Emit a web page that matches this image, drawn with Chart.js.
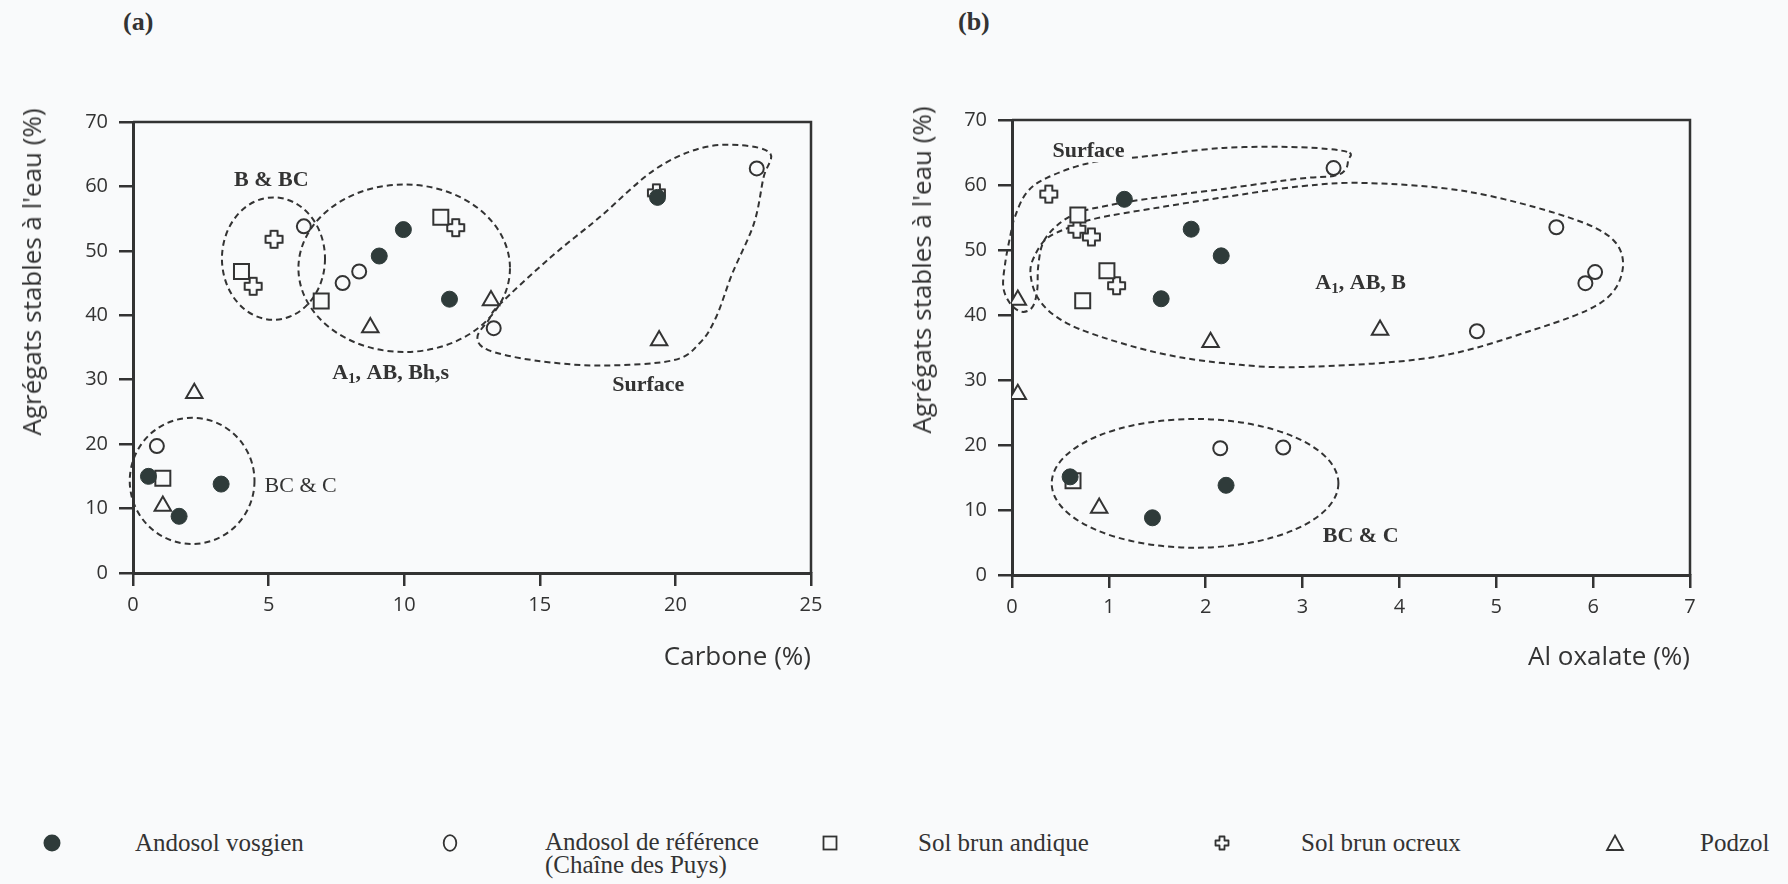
<!DOCTYPE html>
<html>
<head>
<meta charset="utf-8">
<script src="https://cdn.jsdelivr.net/npm/chart.js@4.4.1/dist/chart.umd.min.js"></script>
<style>
  html, body { margin: 0; padding: 0; }
  body { width: 1788px; height: 884px; background: #f9fafb; position: relative; overflow: hidden; }
  .wrap { position: absolute; top: 0; }
  .ytitle { position: absolute; transform: translate(-50%, -50%) rotate(-90deg); white-space: nowrap;
            font-family: 'Open Sans', sans-serif; font-size: 26px; line-height: 30px; color: #333; }
  .panel { position: absolute; font-family: 'Liberation Serif', serif; font-weight: bold; font-size: 26px; color: #333; line-height: 30px; }
  .lg { position: absolute; font-family: 'Liberation Serif', serif; font-size: 25px; color: #333; line-height: 23px; white-space: nowrap; }
  .sym { position: absolute; }
</style>
</head>
<body>
<div class="panel" style="left:123px; top:7px;">(a)</div>
<div class="panel" style="left:958px; top:7px;">(b)</div>

<div class="wrap" style="left:0px; width:880px; height:700px;"><canvas id="ca" width="880" height="700"></canvas></div>
<div class="wrap" style="left:890px; width:898px; height:700px;"><canvas id="cb" width="898" height="700"></canvas></div>

<div class="ytitle" style="left:31px; top:272px;">Agrégats stables à l'eau (%)</div>
<div class="ytitle" style="left:921px; top:270px;">Agrégats stables à l'eau (%)</div>

<!-- legend -->
<svg class="sym" style="left:42px; top:833px;" width="20" height="20"><circle cx="10" cy="10" r="8.5" fill="#2f3b3a"/></svg>
<div class="lg" style="left:135px; top:831px;">Andosol vosgien</div>
<svg class="sym" style="left:440px; top:833px;" width="20" height="20"><ellipse cx="10" cy="10" rx="6.3" ry="7.8" fill="none" stroke="#333" stroke-width="1.8"/></svg>
<div class="lg" style="left:545px; top:830px;">Andosol de référence<br>(Chaîne des Puys)</div>
<svg class="sym" style="left:820px; top:833px;" width="20" height="20"><rect x="3.5" y="3.5" width="13" height="13" fill="none" stroke="#333" stroke-width="1.8"/></svg>
<div class="lg" style="left:918px; top:831px;">Sol brun andique</div>
<svg class="sym" style="left:1212px; top:833px;" width="20" height="20"><path d="M7.5 3.5 H12.5 V7.5 H16.5 V12.5 H12.5 V16.5 H7.5 V12.5 H3.5 V7.5 H7.5 Z" fill="none" stroke="#333" stroke-width="1.8" stroke-linejoin="round"/></svg>
<div class="lg" style="left:1301px; top:831px;">Sol brun ocreux</div>
<svg class="sym" style="left:1605px; top:833px;" width="20" height="20"><polygon points="10,2.5 18,17 2,17" fill="none" stroke="#333" stroke-width="1.8"/></svg>
<div class="lg" style="left:1700px; top:831px;">Podzol</div>

<script>
// ---------------- DATA ----------------
const seriesNames = ['Andosol vosgien', 'Andosol de référence (Chaîne des Puys)', 'Sol brun andique', 'Sol brun ocreux', 'Podzol'];

// Panel (a): [Carbone %, Agrégats stables %]
const aAndosolVosgien = [[0.57,15.0],[1.7,8.8],[3.25,13.8],[9.08,49.2],[9.97,53.3],[11.67,42.5],[19.34,58.3]];
const aAndosolReference = [[0.88,19.7],[6.3,53.8],[7.73,45.0],[8.34,46.8],[13.3,38.0],[23.0,62.8]];
const aSolBrunAndique = [[1.1,14.7],[4.0,46.8],[6.94,42.2],[11.35,55.2]];
const aSolBrunOcreux = [[4.43,44.5],[5.2,51.8],[11.9,53.6],[19.3,59.0]];
const aPodzol = [[1.1,10.4],[2.26,27.9],[8.75,38.1],[13.2,42.3],[19.4,36.1]];

// Panel (b): [Al oxalate %, Agrégats stables %]
const bAndosolVosgien = [[0.6,15.1],[1.45,8.8],[2.21,13.8],[1.16,57.8],[1.85,53.2],[2.16,49.1],[1.54,42.5]];
const bAndosolReference = [[2.15,19.5],[2.8,19.6],[3.32,62.6],[5.62,53.5],[6.02,46.6],[5.92,44.9],[4.8,37.5]];
const bSolBrunAndique = [[0.63,14.5],[0.68,55.4],[0.98,46.8],[0.73,42.2]];
const bSolBrunOcreux = [[0.38,58.6],[0.67,53.2],[0.82,52.0],[1.08,44.5]];
const bPodzol = [[0.06,42.3],[0.06,27.8],[0.9,10.3],[2.05,35.8],[3.8,37.7]];

// axis ranges / tick labels
const yTicks = [0,10,20,30,40,50,60,70];
const aXTicks = [0,5,10,15,20,25];
const bXTicks = [0,1,2,3,4,5,6,7];
const aXTitle = 'Carbone (%)';
const bXTitle = 'Al oxalate (%)';

// Grouping outlines (data units)
const aEllipses = [
  {cx:5.18, cy:48.8, rx:1.9, ry:9.5},   // B & BC
  {cx:10.0, cy:47.3, rx:3.9, ry:13.0},  // A1, AB, Bh,s
  {cx:2.18, cy:14.3, rx:2.3, ry:9.8}    // BC & C
];
const aSurfaceOutline = [[23.5,65.1],[23.25,61.4],[22.9,54.3],[22.1,46.5],[21.5,39.7],[20.9,35.7],[19.9,33.0],[17.2,32.2],[14.8,33.0],[13.1,34.6],[12.7,36.6],[13.1,39.2],[13.5,41.6],[15.4,49.0],[17.2,55.2],[19.2,62.5],[20.9,65.9],[22.4,66.4]];
const bEllipses = [
  {cx:1.89, cy:14.1, rx:1.48, ry:9.9}   // BC & C
];
const bSurfaceOutline = [[3.46,65.1],[2.98,65.8],[2.18,65.7],[1.32,64.3],[0.8,63.4],[0.36,61.1],[0.15,58.8],[0.03,55.1],[-0.02,52.0],[-0.07,48.0],[-0.09,44.3],[-0.02,41.8],[0.10,40.5],[0.21,41.2],[0.26,43.8],[0.27,47.4],[0.32,51.1],[0.46,53.7],[0.67,55.7],[0.94,56.7],[1.32,57.7],[2.18,59.4],[2.98,61.0],[3.32,61.4],[3.44,62.3],[3.47,63.8]];
const bA1Outline = [[0.19,46.6],[0.24,49.3],[0.36,51.8],[0.58,53.4],[0.88,54.9],[1.50,56.5],[2.18,58.1],[2.98,59.8],[3.67,60.3],[4.70,59.0],[5.73,55.1],[6.21,51.5],[6.30,46.6],[6.07,41.8],[5.38,37.7],[4.35,33.5],[2.98,32.0],[2.18,32.6],[1.50,34.2],[0.81,37.2],[0.46,39.7],[0.26,42.8]];

// Group labels (anchor in data units)
const aGroupLabels = [
  {x:5.1, y:61.0, parts:[['B & BC']], bold:true},
  {x:9.5, y:31.0, parts:[['A'],['1',true],[', AB, Bh,s']], bold:true},
  {x:19.0, y:29.1, parts:[['Surface']], bold:true},
  {x:6.18, y:13.5, parts:[['BC & C']], bold:false}
];
const bGroupLabels = [
  {x:0.79, y:65.2, parts:[['Surface']], bold:true, bg:true},
  {x:3.6, y:44.9, parts:[['A'],['1',true],[', AB, B']], bold:true},
  {x:3.6, y:6.0, parts:[['BC & C']], bold:true}
];

// ---------------- STYLE ----------------
const INK = '#333333';
const FILL_DARK = '#2f3b3a';
const PAPER = '#f9fafb';

function makeCross(size, arm, lw) {
  const s = Math.ceil(size + lw * 2);
  const c = document.createElement('canvas');
  c.width = s; c.height = s;
  const g = c.getContext('2d');
  const m = s / 2, L = size / 2, a = arm / 2;
  const pts = [[-a,-L],[a,-L],[a,-a],[L,-a],[L,a],[a,a],[a,L],[-a,L],[-a,a],[-L,a],[-L,-a],[-a,-a]];
  g.beginPath();
  pts.forEach((p, i) => i ? g.lineTo(m + p[0], m + p[1]) : g.moveTo(m + p[0], m + p[1]));
  g.closePath();
  g.fillStyle = PAPER; g.fill();
  g.lineWidth = lw; g.strokeStyle = INK; g.lineJoin = 'round'; g.stroke();
  return c;
}
const crossImg = makeCross(17, 7, 2);

function toXY(arr) { return arr.map(p => ({x: p[0], y: p[1]})); }

function datasets(f, o, s, c, t) {
  return [
    {label: seriesNames[0], data: toXY(f), pointStyle: 'circle', pointRadius: 8, backgroundColor: FILL_DARK, borderColor: FILL_DARK, borderWidth: 1},
    {label: seriesNames[1], data: toXY(o), pointStyle: 'circle', pointRadius: 7, backgroundColor: PAPER, borderColor: INK, borderWidth: 2},
    {label: seriesNames[2], data: toXY(s), pointStyle: 'rect', pointRadius: 10.6, backgroundColor: PAPER, borderColor: INK, borderWidth: 2},
    {label: seriesNames[3], data: toXY(c), pointStyle: crossImg, pointRadius: 9, backgroundColor: PAPER, borderColor: INK},
    {label: seriesNames[4], data: toXY(t), pointStyle: 'triangle', pointRadius: 9.5, backgroundColor: PAPER, borderColor: INK, borderWidth: 2}
  ];
}

function closedSpline(ctx, pts) {
  const n = pts.length;
  ctx.beginPath();
  ctx.moveTo(pts[0][0], pts[0][1]);
  for (let i = 0; i < n; i++) {
    const p0 = pts[(i - 1 + n) % n], p1 = pts[i], p2 = pts[(i + 1) % n], p3 = pts[(i + 2) % n];
    const c1x = p1[0] + (p2[0] - p0[0]) / 6, c1y = p1[1] + (p2[1] - p0[1]) / 6;
    const c2x = p2[0] - (p3[0] - p1[0]) / 6, c2y = p2[1] - (p3[1] - p1[1]) / 6;
    ctx.bezierCurveTo(c1x, c1y, c2x, c2y, p2[0], p2[1]);
  }
  ctx.closePath();
}

const regionsPlugin = {
  id: 'regions',
  beforeDatasetsDraw(chart, args, opts) {
    const {ctx, chartArea: ca, scales: {x, y}} = chart;
    ctx.save();
    // frame (top + right)
    ctx.strokeStyle = INK; ctx.lineWidth = 2.5; ctx.setLineDash([]);
    ctx.beginPath();
    ctx.moveTo(ca.left, ca.top); ctx.lineTo(ca.right, ca.top); ctx.lineTo(ca.right, ca.bottom);
    ctx.stroke();
    // dashed outlines
    ctx.lineWidth = 2; ctx.setLineDash([6, 4]); ctx.strokeStyle = INK;
    (opts.ellipses || []).forEach(e => {
      const cx = x.getPixelForValue(e.cx), cy = y.getPixelForValue(e.cy);
      const rx = Math.abs(x.getPixelForValue(e.cx + e.rx) - cx);
      const ry = Math.abs(y.getPixelForValue(e.cy + e.ry) - cy);
      ctx.beginPath(); ctx.ellipse(cx, cy, rx, ry, 0, 0, Math.PI * 2); ctx.stroke();
    });
    (opts.outlines || []).forEach(ol => {
      const px = ol.map(p => [x.getPixelForValue(p[0]), y.getPixelForValue(p[1])]);
      closedSpline(ctx, px); ctx.stroke();
    });
    ctx.setLineDash([]);
    // group labels
    (opts.labels || []).forEach(l => {
      const base = (l.bold ? 'bold ' : '') + '22px "Liberation Serif", serif';
      const sub = (l.bold ? 'bold ' : '') + '15px "Liberation Serif", serif';
      let w = 0;
      l.parts.forEach(p => { ctx.font = p[1] ? sub : base; w += ctx.measureText(p[0]).width; });
      const cx = x.getPixelForValue(l.x), cy = y.getPixelForValue(l.y);
      if (l.bg) { ctx.fillStyle = PAPER; ctx.fillRect(cx - w / 2 - 4, cy - 13, w + 8, 24); }
      let px = cx - w / 2;
      ctx.fillStyle = INK; ctx.textBaseline = 'middle'; ctx.textAlign = 'left';
      l.parts.forEach(p => {
        ctx.font = p[1] ? sub : base;
        ctx.fillText(p[0], px, p[1] ? cy + 6 : cy);
        px += ctx.measureText(p[0]).width;
      });
    });
    ctx.restore();
  }
};

Chart.defaults.font.family = "'Open Sans', sans-serif";
Chart.defaults.color = INK;

function makeChart(id, ds, xTicks, xTitle, yWidth, xHeight, pad, ellipses, outlines, labels) {
  return new Chart(document.getElementById(id), {
    type: 'scatter',
    data: {datasets: ds},
    plugins: [regionsPlugin],
    options: {
      responsive: false,
      animation: false,
      layout: {padding: pad},
      plugins: {
        legend: {display: false},
        tooltip: {enabled: false},
        regions: {ellipses, outlines, labels}
      },
      scales: {
        x: {
          type: 'linear', min: xTicks[0], max: xTicks[xTicks.length - 1],
          afterBuildTicks: s => { s.ticks = xTicks.map(v => ({value: v})); },
          afterFit: s => { s.height = xHeight; },
          ticks: {font: {size: 20}, color: INK, padding: 7, maxRotation: 0},
          grid: {display: true, drawOnChartArea: false, drawTicks: true, tickLength: 13, color: INK, lineWidth: 2.5},
          border: {display: true, color: INK, width: 3},
          title: {display: true, text: xTitle, align: 'end', color: INK, font: {size: 26}, padding: {top: 0, bottom: 27}}
        },
        y: {
          type: 'linear', min: yTicks[0], max: yTicks[yTicks.length - 1],
          afterBuildTicks: s => { s.ticks = yTicks.map(v => ({value: v})); },
          afterFit: s => { s.width = yWidth; },
          ticks: {font: {size: 20}, color: INK, padding: 11},
          grid: {display: true, drawOnChartArea: false, drawTicks: true, tickLength: 14, color: INK, lineWidth: 2.5},
          border: {display: true, color: INK, width: 3}
        }
      }
    }
  });
}

makeChart('ca', datasets(aAndosolVosgien, aAndosolReference, aSolBrunAndique, aSolBrunOcreux, aPodzol),
  aXTicks, aXTitle, 133, 127, {left: 0, top: 122, right: 69, bottom: 0},
  aEllipses, [aSurfaceOutline], aGroupLabels);

makeChart('cb', datasets(bAndosolVosgien, bAndosolReference, bSolBrunAndique, bSolBrunOcreux, bPodzol),
  bXTicks, bXTitle, 122, 125, {left: 0, top: 120, right: 98, bottom: 0},
  bEllipses, [bSurfaceOutline, bA1Outline], bGroupLabels);
</script>
</body>
</html>
